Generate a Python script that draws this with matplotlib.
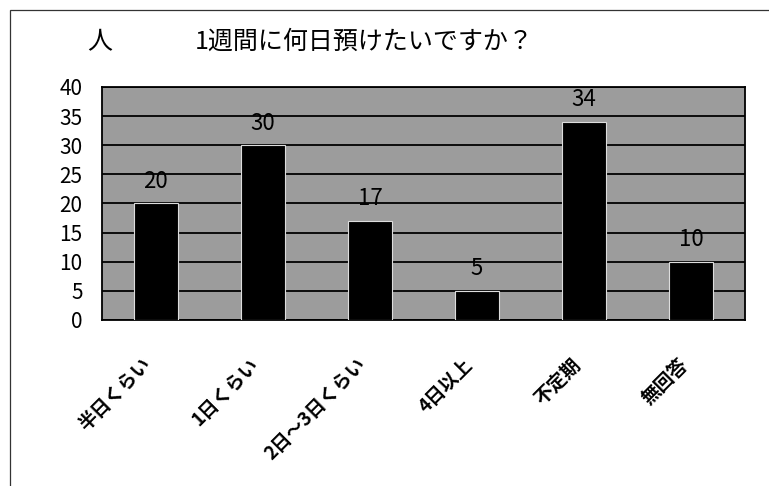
import matplotlib.pyplot as plt
import matplotlib.transforms as mtransforms
from matplotlib.patches import Rectangle

plt.rcParams['font.family'] = ['Noto Sans CJK JP', 'DejaVu Sans']

# data
categories = ['半日くらい', '1日くらい', '2日～3日くらい', '4日以上', '不定期', '無回答']
counts = [20, 30, 17, 5, 34, 10]
y_ticks = [0, 5, 10, 15, 20, 25, 30, 35, 40]

fig = plt.figure(figsize=(7.69, 4.86), dpi=100)
ax = fig.add_axes([0.1326, 0.3416, 0.8362, 0.4794])

# outer chart frame (runs off the right and bottom edges)
fig.patches.append(Rectangle((10 / 769, -0.1), 1.2, 1 - 10 / 486 + 0.1,
                             transform=fig.transFigure, fill=False,
                             edgecolor='#333333', linewidth=0.9))

x = range(len(categories))
ax.set_facecolor('#9c9c9c')
bars = ax.bar(x, counts, width=0.41, color='black', edgecolor='#dddddd',
              linewidth=0.8, zorder=3)

for b, v in zip(bars, counts):
    ax.text(b.get_x() + b.get_width() / 2, v + 3.8, str(v), ha='center',
            va='center', fontsize=16, color='black', zorder=4)

ax.set_xlim(-0.5, len(categories) - 0.5)
ax.set_ylim(0, 40)
ax.set_yticks(y_ticks)
ax.set_yticklabels([str(t) for t in y_ticks], fontsize=15)
ax.tick_params(axis='y', length=0, pad=14)
ax.tick_params(axis='x', length=0, pad=30)
ax.yaxis.grid(True, color='black', linewidth=1.3, zorder=1)
ax.set_axisbelow(True)
for s in ax.spines.values():
    s.set_linewidth(1.3)
    s.set_color('black')

ax.set_xticks(list(x))
ax.set_xticklabels(categories, rotation=45, ha='right', va='center',
                   rotation_mode='anchor', fontsize=13.5, fontweight='bold')
shift = mtransforms.ScaledTranslation(-5 / 72, 0, fig.dpi_scale_trans)
for lbl in ax.get_xticklabels():
    lbl.set_transform(lbl.get_transform() + shift)

fig.text(100 / 769, 1 - 42 / 486, '人', fontsize=18, ha='center', va='center')
fig.text(364 / 769, 1 - 42 / 486, '1週間に何日預けたいですか？', fontsize=18,
         ha='center', va='center')

fig.savefig('out.png', dpi=100)
